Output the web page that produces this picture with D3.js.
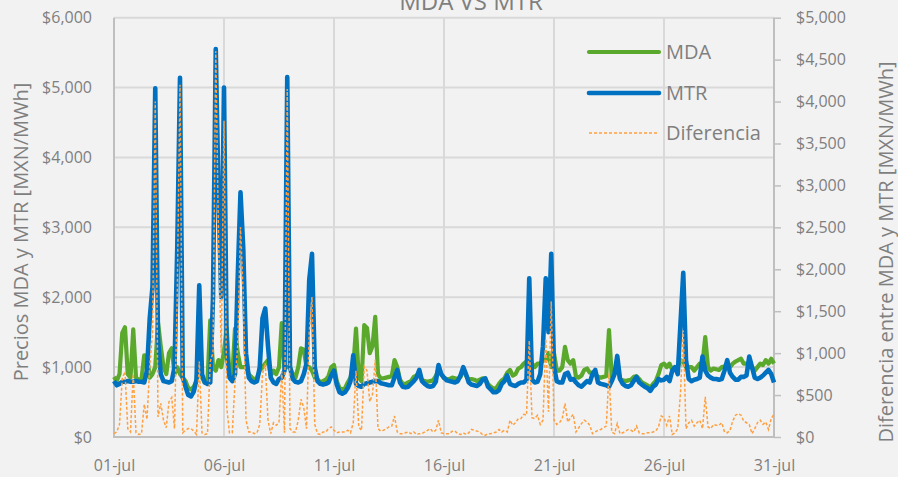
<!DOCTYPE html>
<html><head><meta charset="utf-8">
<script src="https://cdn.jsdelivr.net/npm/d3@7"></script>
<style>
html,body{margin:0;padding:0;background:#f2f2f2;}
svg{display:block;font-family:"Open Sans",sans-serif;}
</style></head>
<body><svg id="c" width="898" height="477"></svg>
<script>
// 3-hourly samples, 01-jul 00h .. 31-jul 00h (241 points)
const xLabels = ["01-jul","06-jul","11-jul","16-jul","21-jul","26-jul","31-jul"];
const leftTicks = [0,1000,2000,3000,4000,5000,6000];
const rightTicks = [0,500,1000,1500,2000,2500,3000,3500,4000,4500,5000];
const seriesNames = ["MDA","MTR","Diferencia"];

const mda = [
860,800,900,1490,1570,900,850,1540,
850,820,830,1170,1160,850,900,1000,
1640,1300,1000,900,1200,1270,900,1000,
900,850,800,700,680,720,800,1270,
850,780,800,1670,1000,950,1100,1000,
1230,1550,900,850,1550,1200,1000,1000,
1000,900,860,820,850,950,1000,1050,
1100,880,950,900,1000,1630,1000,1000,
1000,900,850,1000,1270,1250,1000,1000,
950,850,830,780,800,820,870,1000,
1030,800,700,680,700,780,850,1000,
1550,850,800,1600,1560,1200,1300,1720,
900,840,840,850,860,870,1100,1000,
820,760,760,780,800,860,880,920,
810,800,790,800,810,870,950,900,
840,830,830,850,840,830,860,960,
880,820,830,820,800,820,840,830,
760,720,690,700,760,810,840,920,
960,880,900,980,1000,1050,1080,1120,
1050,1000,1050,1050,1100,1100,1200,1000,
1200,950,950,1000,1290,1100,1050,1100,
860,850,880,960,980,920,920,900,
860,850,860,870,1530,860,900,1000,
830,810,800,810,820,860,870,830,
780,760,740,700,760,800,900,1030,
1050,1000,1050,960,1000,1000,1100,1080,
1000,1000,1000,950,1000,1050,1050,1430,
1000,950,980,970,960,1000,1010,1050,
1000,1050,1080,1100,1120,1050,1050,1000,
1000,950,1000,1050,1030,1100,1050,1120,1050];

const mtr = [
800,740,760,790,790,800,790,790,
800,790,790,780,950,1700,2150,4990,
1400,900,800,790,780,800,1000,2700,
5140,850,720,600,580,650,820,2170,
900,780,760,780,2000,5550,3470,2000,
5000,1200,850,800,900,2300,3500,2700,
1200,850,800,780,800,1000,1700,1840,
1300,850,780,760,830,850,950,5150,
1000,830,790,780,800,900,1050,2250,
2620,1000,800,760,750,760,780,880,
950,750,640,620,640,700,800,1170,
760,730,720,760,770,780,790,800,
800,770,760,750,740,740,850,960,
780,720,710,720,760,800,850,960,
800,760,730,720,730,790,1030,900,
850,810,800,790,780,800,880,1000,
900,780,750,740,730,760,820,840,
720,680,640,640,670,760,800,880,
760,740,730,760,780,780,820,2270,
820,780,790,900,1300,2270,1500,2620,
1000,800,780,780,900,920,820,830,
780,740,720,760,800,780,900,960,
780,760,750,740,720,800,900,1160,
830,760,730,720,740,800,860,780,
750,720,700,660,720,750,830,810,
820,860,800,950,1000,900,1630,2350,
1100,830,800,820,830,850,1150,950,
880,850,830,830,820,830,950,1100,
920,860,820,820,860,860,880,1150,
1000,850,830,850,880,920,960,900,780];

const dif = [
40,60,150,700,780,100,60,750,
50,30,40,390,210,850,1250,4000,
240,400,200,110,420,470,100,1700,
4200,50,80,100,100,70,30,900,
50,30,40,900,1000,4600,2400,1000,
3770,350,50,50,650,1100,2500,1700,
200,60,60,40,50,150,750,880,
200,40,170,140,170,780,50,4150,
100,60,60,200,450,350,100,1250,
1670,150,40,30,60,60,100,120,
80,50,60,60,60,80,50,170,
790,120,80,840,790,420,510,920,
100,70,80,100,120,130,250,60,
40,40,50,60,40,60,30,40,
40,60,80,100,60,80,200,50,
40,40,40,70,70,40,30,50,
30,50,90,80,70,60,30,20,
40,40,50,60,90,60,80,60,
200,140,170,220,220,270,260,1150,
230,220,260,150,200,1170,300,1620,
200,150,170,220,400,180,230,270,
60,110,160,200,180,140,40,60,
80,90,110,130,760,60,40,160,
40,50,70,90,80,60,130,50,
40,40,50,50,60,70,120,250,
230,140,250,30,50,100,530,1270,
100,170,200,130,170,200,100,480,
120,100,150,140,140,170,60,50,
80,190,260,280,260,190,170,150,
40,100,170,200,150,180,90,220,270];

const colors = {MDA:"#5aa82c", MTR:"#0070c0", Diferencia:"#ff9f40"};
const textCol = "#7f7f7f", gridCol = "#d9d9d9", axisCol = "#bfbfbf";

const L = 114, R = 774, T = 17.7, B = 437;
const svg = d3.select("#c");
svg.append("rect").attr("width",898).attr("height",477).attr("fill","#f2f2f2");

const x = d3.scaleLinear().domain([0, mda.length-1]).range([L, R]);
const yL = d3.scaleLinear().domain([0, 6000]).range([B, T]);
const yR = d3.scaleLinear().domain([0, 5000]).range([B, T]);
const xTickIdx = xLabels.map((d,i)=> i*40);

// grid
const g = svg.append("g");
g.selectAll("line.h").data(leftTicks.slice(1)).enter().append("line")
  .attr("x1",L).attr("x2",R).attr("y1",d=>yL(d)).attr("y2",d=>yL(d))
  .attr("stroke",gridCol).attr("stroke-width",2);
g.selectAll("line.v").data(xTickIdx.slice(1,-1)).enter().append("line")
  .attr("x1",d=>x(d)).attr("x2",d=>x(d)).attr("y1",T).attr("y2",B)
  .attr("stroke",gridCol).attr("stroke-width",2);
// axis lines
svg.append("line").attr("x1",L).attr("x2",L).attr("y1",T).attr("y2",B).attr("stroke",axisCol).attr("stroke-width",2);
svg.append("line").attr("x1",R).attr("x2",R).attr("y1",T).attr("y2",B).attr("stroke",axisCol).attr("stroke-width",2);
svg.append("line").attr("x1",L-1).attr("x2",R+1).attr("y1",B).attr("y2",B).attr("stroke",axisCol).attr("stroke-width",2);

// axes
const fmt = d3.format("$,");
const axL = svg.append("g").attr("transform",`translate(${L},0)`)
  .call(d3.axisLeft(yL).tickValues(leftTicks).tickSize(0).tickPadding(22).tickFormat(fmt));
const axR = svg.append("g").attr("transform",`translate(${R},0)`)
  .call(d3.axisRight(yR).tickValues(rightTicks).tickSize(7).tickPadding(15).tickFormat(fmt));
const axB = svg.append("g").attr("transform",`translate(0,${B})`)
  .call(d3.axisBottom(x).tickValues(xTickIdx).tickSize(0).tickPadding(23).tickFormat((d,i)=>xLabels[i]));
[axL,axR,axB].forEach(a=>{
  a.select(".domain").remove();
  a.selectAll("text").attr("fill",textCol).style("font-size","16px").style("font-family","'Open Sans',sans-serif");
  a.selectAll("line").attr("stroke",axisCol).attr("stroke-width",1.5);
});

// lines
const lineL = d3.line().x((d,i)=>x(i)).y(d=>yL(d));
const lineR = d3.line().x((d,i)=>x(i)).y(d=>yR(d));
svg.append("path").datum(mda).attr("d",lineL).attr("fill","none")
  .attr("stroke",colors.MDA).attr("stroke-width",4.2).attr("stroke-linejoin","round");
svg.append("path").datum(mtr).attr("d",lineL).attr("fill","none")
  .attr("stroke",colors.MTR).attr("stroke-width",4.6).attr("stroke-linejoin","round");
svg.append("path").datum(dif).attr("d",lineR).attr("fill","none")
  .attr("stroke",colors.Diferencia).attr("stroke-width",1.5).attr("stroke-dasharray","3,2");

// title
svg.append("text").attr("x",471).attr("y",10).attr("text-anchor","middle")
  .attr("fill",textCol).style("font-size","24px").text("MDA VS MTR");

// axis titles
svg.append("text").attr("transform","translate(28,232) rotate(-90)").attr("text-anchor","middle")
  .attr("fill",textCol).style("font-size","20px").text("Precios MDA y MTR [MXN/MWh]");
svg.append("text").attr("transform","translate(893,252) rotate(-90)").attr("text-anchor","middle")
  .attr("fill",textCol).style("font-size","20px").text("Diferencia entre MDA y MTR [MXN/MWh]");

// legend
const legY = [52,93,133];
const leg = svg.append("g");
seriesNames.forEach((n,i)=>{
  const ln = leg.append("line").attr("x1",589).attr("x2",659).attr("y1",legY[i]).attr("y2",legY[i])
    .attr("stroke",colors[n]);
  if(n==="Diferencia") ln.attr("stroke-width",1.5).attr("stroke-dasharray","3,2");
  else ln.attr("stroke-width",n==="MTR"?4.6:4.2).attr("stroke-linecap","round");
  leg.append("text").attr("x",666).attr("y",legY[i]+7).attr("fill",textCol)
    .style("font-size","20px").text(n);
});
</script></body></html>
